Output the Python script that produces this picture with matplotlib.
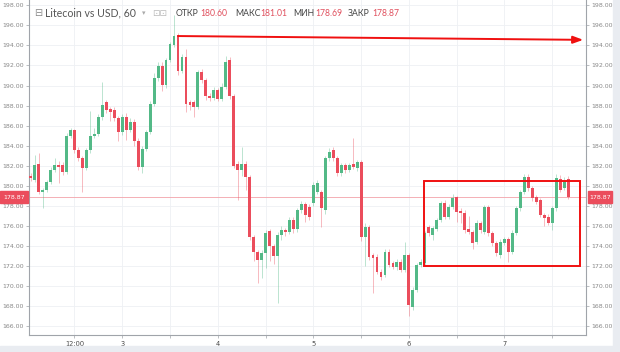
import numpy as np
import matplotlib
matplotlib.use("Agg")
import matplotlib.pyplot as plt
from matplotlib.patches import Rectangle

# LTC/USD, 60 min candles
opens = [181.0, 180.6, 182.15, 179.4, 179.6, 180.4, 181.6, 182.1, 182.1, 181.4,
         185.0, 185.6, 183.6, 182.8, 181.8, 183.6, 185.0, 185.2, 186.9, 188.4,
         187.7, 187.6, 186.8, 185.4, 186.9, 185.6, 186.4, 184.5, 181.9, 183.7,
         185.4, 188.2, 190.8, 191.9, 190.1, 192.5, 194.0, 195.0, 191.4, 192.8,
         188.4, 188.4, 187.9, 191.3, 190.6, 189.0, 188.8, 189.6, 188.7, 189.9,
         192.5, 189.0, 182.2, 181.6, 182.2, 180.9, 174.9, 173.4, 172.6, 173.3,
         175.5, 174.0, 173.0, 175.1, 175.6, 175.4, 176.6, 175.7, 177.6, 178.2,
         177.9, 178.3, 179.4, 179.4, 177.6, 182.75, 183.6, 182.75, 181.25, 182.1,
         181.6, 182.2, 181.75, 182.4, 174.95, 175.88, 173.12, 172.95, 171.46, 171.13,
         173.45, 172.29, 171.96, 172.46, 171.63, 173.12, 167.97, 169.64, 172.13, 172.29,
         175.88, 175.11, 175.68, 176.61, 178.27, 176.94, 177.93, 178.87, 177.54, 177.33,
         175.68, 175.44, 174.45, 176.28, 175.44, 177.93, 175.28, 174.28, 173.12, 174.35,
         174.68, 173.45, 175.35, 177.77, 179.43, 180.86, 179.76, 178.87, 178.6, 177.1,
         176.94, 176.28, 177.77, 180.66, 179.76, 180.66]
closes = [180.75, 182.1, 179.4, 179.55, 180.4, 181.6, 182.1, 181.9, 181.4, 185.0,
          185.6, 183.6, 182.8, 181.8, 183.6, 185.0, 185.2, 186.9, 188.1, 187.6,
          187.4, 186.8, 185.4, 186.9, 185.6, 186.4, 184.5, 181.9, 183.7, 185.4,
          188.2, 190.8, 191.9, 190.1, 192.5, 194.1, 194.9, 191.4, 192.8, 188.2,
          188.1, 187.9, 191.3, 190.6, 189.0, 188.8, 189.6, 188.7, 189.9, 192.3,
          189.0, 182.0, 181.6, 182.2, 180.9, 174.9, 173.4, 172.6, 173.3, 175.3,
          174.0, 173.0, 175.1, 175.6, 175.4, 176.6, 175.7, 177.6, 178.2, 177.1,
          176.9, 180.1, 180.3, 177.8, 182.75, 183.4, 182.75, 181.25, 182.1, 181.6,
          182.1, 181.9, 182.4, 174.9, 175.88, 172.95, 172.79, 171.46, 170.96, 173.45,
          172.13, 171.96, 172.46, 171.63, 173.12, 168.14, 169.64, 172.13, 172.46, 175.28,
          175.28, 175.78, 176.61, 178.27, 176.94, 177.93, 178.77, 177.43, 177.33, 175.61,
          175.44, 174.28, 176.28, 175.61, 177.93, 175.28, 174.28, 173.29, 174.45, 174.68,
          173.45, 175.35, 177.77, 179.43, 180.86, 179.76, 178.77, 178.43, 177.1, 176.77,
          176.34, 177.77, 180.76, 179.6, 180.52, 178.87]
highs = [181.3, 183.1, 183.3, 179.8, 180.6, 181.9, 182.75, 182.5, 182.4, 185.3,
         185.8, 185.7, 183.9, 183.0, 183.8, 187.5, 185.8, 187.2, 190.4, 188.6,
         187.9, 187.9, 187.0, 187.2, 187.3, 186.8, 186.7, 184.8, 184.0, 185.6,
         188.5, 191.2, 192.3, 192.3, 192.7, 194.3, 197.0, 195.2, 193.1, 193.6,
         188.6, 188.6, 191.5, 191.6, 190.8, 189.3, 189.9, 189.8, 190.3, 192.9,
         192.8, 189.2, 182.5, 183.9, 182.5, 181.1, 175.1, 173.6, 173.6, 175.6,
         175.7, 174.2, 175.4, 176.0, 175.8, 176.9, 176.9, 177.8, 178.5, 178.4,
         178.2, 180.4, 180.6, 179.6, 183.0, 183.8, 183.9, 183.0, 182.3, 182.3,
         182.3, 184.8, 182.6, 182.6, 176.3, 176.1, 173.3, 173.2, 171.7, 173.7,
         173.7, 172.5, 172.7, 172.7, 174.4, 173.3, 169.9, 172.3, 172.7, 175.5,
         176.1, 176.0, 176.8, 178.5, 178.6, 178.2, 179.2, 179.0, 177.8, 177.6,
         177.0, 175.6, 176.6, 176.5, 178.1, 178.1, 175.5, 174.5, 174.7, 174.9,
         174.9, 175.6, 178.0, 179.6, 181.2, 181.2, 180.0, 179.1, 178.8, 177.3,
         177.2, 178.0, 181.2, 181.1, 180.9, 181.01]
lows = [180.5, 180.4, 179.2, 177.8, 179.4, 180.2, 181.4, 180.3, 181.1, 181.2,
        184.8, 183.3, 182.5, 179.4, 181.6, 183.3, 184.8, 185.0, 186.6, 187.3,
        186.5, 186.5, 184.5, 185.1, 184.6, 185.4, 184.0, 181.6, 181.3, 183.5,
        185.2, 188.0, 190.5, 189.5, 189.8, 192.3, 193.8, 191.0, 191.2, 187.4,
        187.6, 186.9, 187.7, 190.3, 188.6, 188.5, 188.6, 188.5, 188.5, 189.7,
        188.7, 181.8, 178.6, 181.0, 179.6, 174.6, 172.5, 170.3, 170.8, 171.8,
        172.5, 172.2, 168.3, 174.6, 175.0, 175.2, 175.3, 175.4, 177.3, 176.4,
        176.6, 178.0, 179.2, 175.9, 177.2, 182.5, 182.5, 181.0, 181.0, 181.3,
        181.4, 181.7, 181.5, 174.5, 172.0, 172.6, 169.3, 171.2, 170.6, 170.9,
        171.9, 171.7, 171.6, 171.4, 171.4, 167.0, 167.6, 169.4, 171.9, 172.0,
        175.0, 174.6, 175.5, 176.4, 176.7, 176.7, 177.7, 176.4, 176.3, 175.3,
        175.2, 173.7, 174.2, 175.3, 175.2, 175.0, 174.0, 173.0, 172.8, 174.1,
        172.4, 173.2, 175.1, 177.5, 179.2, 179.5, 178.5, 178.2, 176.9, 176.0,
        176.1, 175.6, 177.5, 179.4, 179.6, 178.69]

first_hour = 1  # first candle: day 2, 01:00
x_ticks = list(range(12, 133, 12))
x_labels = {12: "12:00", 24: "3", 48: "4", 72: "5", 96: "6", 120: "7"}
y_ticks = np.arange(166, 199, 2)
last_price = 178.87

# annotations drawn on top of the chart
arrow_from = (38, 194.93)
arrow_to = (139.8, 194.55)
box_x = (99.8, 139.0)
box_y = (172.03, 180.49)

up = "#53b987"
down = "#eb4d5c"

fig = plt.figure(figsize=(6.2, 3.52), dpi=100)
W, H = 620, 352
ax = fig.add_axes([29 / W, 17 / H, (586 - 29) / W, 335 / H])

hours = np.arange(len(opens)) + first_hour
o = np.array(opens); c = np.array(closes)
hi = np.array(highs); lo = np.array(lows)
cols = [up if cc >= oo else down for oo, cc in zip(o, c)]

ax.vlines(hours, lo, hi, colors=cols, linewidth=0.6, alpha=0.45, zorder=2)
bottom = np.minimum(o, c)
height = np.maximum(np.abs(c - o), 0.12)
ax.bar(hours, height, bottom=bottom, width=0.72, color=cols, linewidth=0, zorder=3)

ax.axhline(last_price, color="#f3a2aa", linewidth=0.6, zorder=1)

ax.set_xlim(0.57, 140.5)
ax.set_ylim(165.15, 198.52)
ax.set_yticks(y_ticks)
ax.set_yticklabels([f"{v:.2f}" for v in y_ticks])
ax.set_xticks(x_ticks)
ax.set_xticklabels([x_labels.get(t, "") for t in x_ticks])
ax.grid(True, color="#eef0f4", linewidth=0.6)
ax.set_axisbelow(True)

for s in ["left", "right", "bottom"]:
    ax.spines[s].set_color("#a0a4aa")
    ax.spines[s].set_linewidth(0.8)
ax.spines["top"].set_visible(False)
ax.tick_params(axis="y", which="both", left=True, right=True, labelleft=True,
               labelright=True, length=2, width=0.5, color="#a0a4aa",
               labelsize=4.5, labelcolor="#888888", pad=1.5)
ax.tick_params(axis="x", length=2, width=0.5, color="#a0a4aa",
               labelsize=4.8, labelcolor="#444444", pad=2)

# red annotations
ax.annotate("", xy=arrow_to, xytext=arrow_from,
            arrowprops=dict(arrowstyle="-|>,head_length=0.6,head_width=0.22",
                            color="#f01010", lw=1.4, shrinkA=0, shrinkB=0),
            zorder=6)
ax.add_patch(Rectangle((box_x[0], box_y[0]), box_x[1] - box_x[0], box_y[1] - box_y[0],
                       fill=False, edgecolor="#f01010", linewidth=1.4, zorder=6))

# price tags on both axes
ylab = 1 - (326.5 - (last_price - 166) * 10.04) / H
for x0, x1 in [(0, 28), (588, 612)]:
    fig.patches.append(Rectangle((x0 / W, ylab - 6 / H), (x1 - x0) / W, 12 / H,
                                 transform=fig.transFigure, color=down, zorder=5))
    fig.text((x0 + x1) / 2 / W, ylab, f"{last_price:.2f}", color="white", fontsize=4.5,
             ha="center", va="center", zorder=6)

# light frame at right and bottom
fig.patches.append(Rectangle((613 / W, 0), 7 / W, 1, transform=fig.transFigure,
                             color="#e9ecf1", zorder=0))
fig.patches.append(Rectangle((0, 0), 1, 6 / H, transform=fig.transFigure,
                             color="#e9ecf1", zorder=0))

# header
ty = 1 - 13 / H
fig.text(34 / W, ty, "⊟", fontsize=7, color="#888888", va="center")
fig.text(45 / W, ty, "Litecoin vs USD, 60", fontsize=7.6, color="#555555",
         va="center", family="Lato")
fig.text(142 / W, ty, "▾", fontsize=5, color="#aaaaaa", va="center")
fig.text(152 / W, ty, "⊡⊡", fontsize=6.5, color="#bbbbbb", va="center")
items = [("ОТКР", 176, "180.60", 200), ("МАКС", 235, "181.01", 260),
         ("МИН", 293, "178.69", 315), ("ЗАКР", 348, "178.87", 372)]
for lab, lx, val, vx in items:
    fig.text(lx / W, ty, lab, fontsize=6.2, color="#444444", va="center", family="Lato")
    fig.text(vx / W, ty, val, fontsize=6.2, color="#e0505e", va="center", family="Lato")

fig.savefig("out.png", dpi=100)
